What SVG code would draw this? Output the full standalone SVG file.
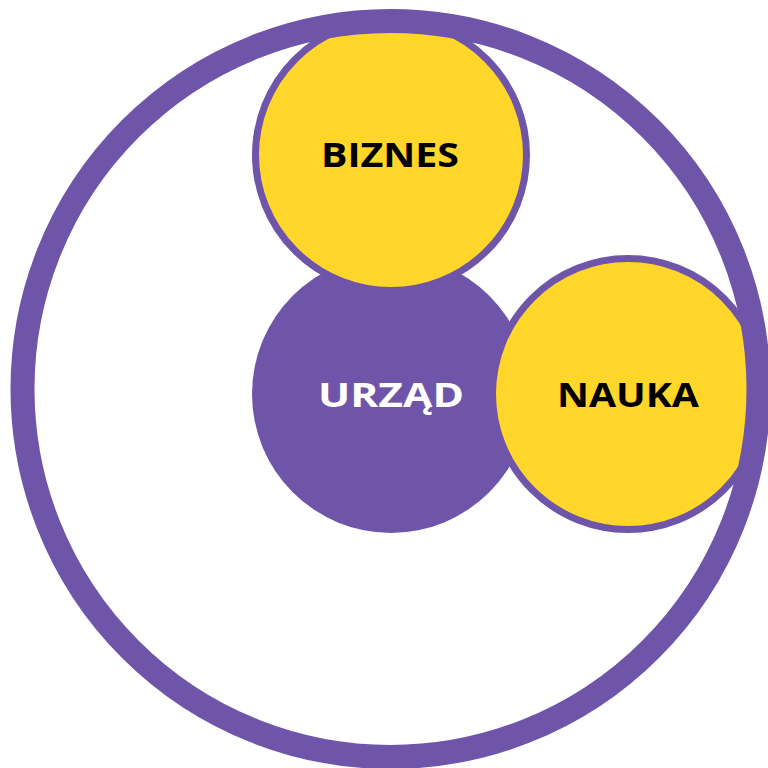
<svg xmlns="http://www.w3.org/2000/svg" width="768" height="768" viewBox="0 0 768 768">
  <style>
    .yellow { fill: #FFD629; stroke: #6E55AA; stroke-width: 7; }
    .purple { fill: #6E55AA; }
    .ring { fill: none; stroke: #6E55AA; stroke-width: 24; }
    .lbl { font-family: "Open Sans", "Liberation Sans", sans-serif; font-weight: 700; font-size: 34px; text-anchor: middle; }
  </style>
  <rect width="768" height="768" fill="#FFFFFF"/>
  <g id="urzad">
    <circle class="purple" cx="391" cy="394" r="139"/>
    <text class="lbl" x="391" y="407" fill="#FFFFFF" textLength="146" lengthAdjust="spacingAndGlyphs">URZĄD</text>
  </g>
  <g id="biznes">
    <circle class="yellow" cx="391" cy="155" r="135.5"/>
    <text class="lbl" x="390" y="167" fill="#000000" textLength="138" lengthAdjust="spacingAndGlyphs">BIZNES</text>
  </g>
  <g id="nauka">
    <circle class="yellow" cx="628" cy="394" r="135.5"/>
    <text class="lbl" x="628" y="407" fill="#000000" textLength="142" lengthAdjust="spacingAndGlyphs">NAUKA</text>
  </g>
  <g id="frame">
    <circle class="ring" cx="390.5" cy="389" r="368"/>
  </g>
  <g id="connectors"></g>
</svg>
